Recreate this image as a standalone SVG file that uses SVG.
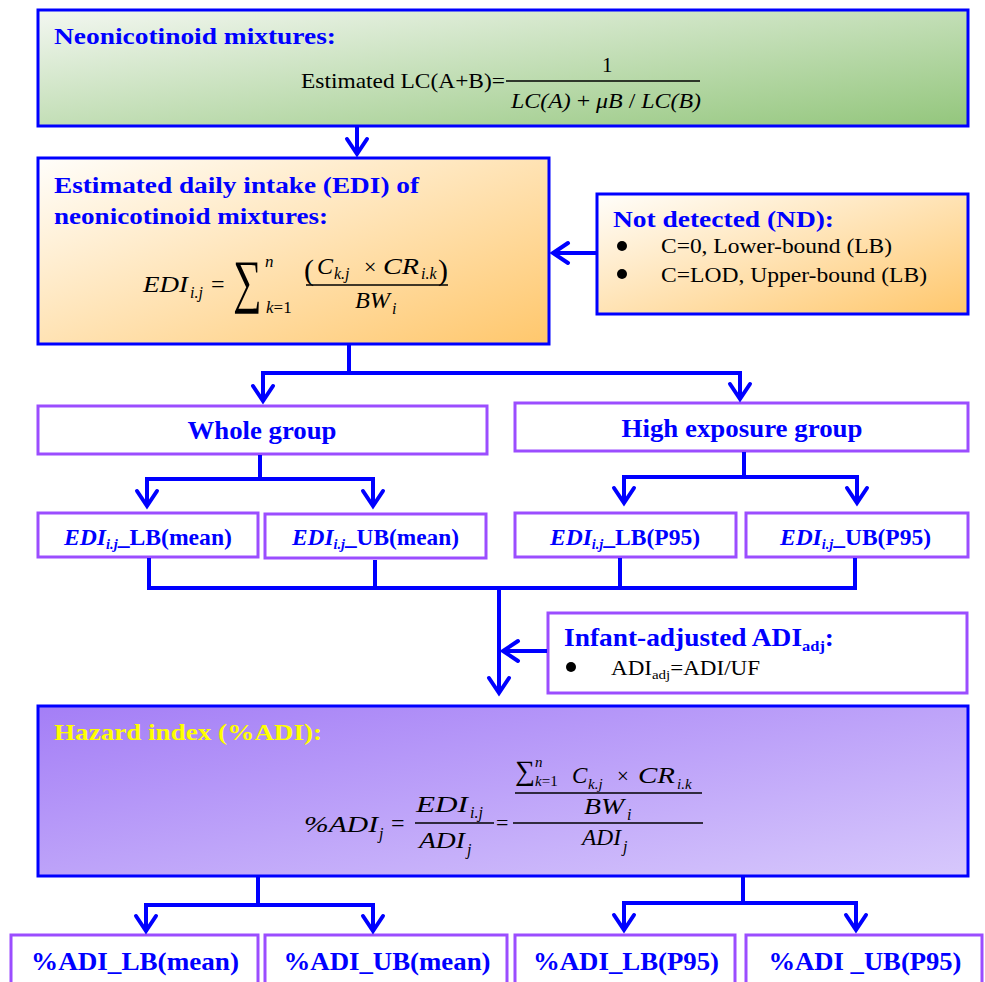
<svg xmlns="http://www.w3.org/2000/svg" width="985" height="982" viewBox="0 0 985 982">
<defs>
<linearGradient id="gGreen" x1="0" y1="0" x2="1" y2="1"><stop offset="0" stop-color="#f3f7f1"/><stop offset="1" stop-color="#93c67c"/></linearGradient>
<linearGradient id="gOrange" x1="0" y1="0" x2="1" y2="1"><stop offset="0" stop-color="#fffefb"/><stop offset="1" stop-color="#ffc76c"/></linearGradient>
<linearGradient id="gPurple" x1="0" y1="0" x2="1" y2="1"><stop offset="0" stop-color="#a47ef6"/><stop offset="1" stop-color="#d7c8fc"/></linearGradient>
<marker id="arr" markerUnits="userSpaceOnUse" markerWidth="40" markerHeight="40" viewBox="-20 -20 40 40" refX="0" refY="0" orient="auto" overflow="visible">
<path d="M-15,-10 L0,0 L-15,10" fill="none" stroke="#0000ff" stroke-width="4" stroke-linejoin="miter" stroke-linecap="round"/>
</marker>
</defs>
<style>
.bbox{stroke:#0000ff;stroke-width:3}
.pbox{fill:#ffffff;stroke:#9b4dff;stroke-width:3}
.hd{font-family:"Liberation Serif","Times New Roman",serif;font-weight:bold;fill:#0000ff}
.tx{font-family:"Liberation Serif","Times New Roman",serif;fill:#000000}
.mi{font-family:"Liberation Serif","Times New Roman",serif;font-style:italic;fill:#000000}
.conn path{fill:none;stroke:#0000ff;stroke-width:4;stroke-linejoin:miter}
.fl{stroke:#000000;stroke-width:1.4}
</style>

<g id="neonicotinoid-mixtures">
<rect x="38" y="10" width="930" height="116" fill="url(#gGreen)" class="bbox"/>
<text class="hd" x="54" y="44" font-size="24" textLength="282" lengthAdjust="spacingAndGlyphs">Neonicotinoid mixtures:</text>
<text class="tx" x="301" y="88" font-size="21" textLength="204" lengthAdjust="spacingAndGlyphs">Estimated LC(A+B)=</text>
<text class="tx" x="602" y="72" font-size="21">1</text>
<line class="fl" x1="506" y1="81" x2="700" y2="81"/>
<text class="mi" x="511" y="108" font-size="21" textLength="190" lengthAdjust="spacingAndGlyphs">LC(A)<tspan font-style="normal"> + </tspan>μB<tspan font-style="normal"> / </tspan>LC(B)</text>
</g>

<g id="edi">
<rect x="38" y="158" width="511" height="186" fill="url(#gOrange)" class="bbox"/>
<text class="hd" x="54" y="193" font-size="24" textLength="365" lengthAdjust="spacingAndGlyphs">Estimated daily intake (EDI) of</text>
<text class="hd" x="54" y="224" font-size="24" textLength="274" lengthAdjust="spacingAndGlyphs">neonicotinoid mixtures:</text>
<text class="mi" x="143" y="292" font-size="24" textLength="45" lengthAdjust="spacingAndGlyphs">EDI</text>
<text class="mi" x="190" y="298" font-size="16">i.j</text>
<text class="tx" x="211" y="292" font-size="24">=</text>
<text class="tx" transform="translate(233,301) scale(0.95,1.4)" font-size="42">∑</text>
<text class="mi" x="265" y="267" font-size="17">n</text>
<text class="mi" x="266" y="313" font-size="17">k<tspan font-style="normal">=1</tspan></text>
<text class="tx" x="304" y="280" font-size="30">(</text>
<text class="mi" x="317" y="274" font-size="24">C</text>
<text class="mi" x="334" y="279" font-size="16">k.j</text>
<text class="tx" x="364" y="274" font-size="22">×</text>
<text class="mi" x="383" y="274" font-size="24" textLength="36" lengthAdjust="spacingAndGlyphs">CR</text>
<text class="mi" x="421" y="279" font-size="16">i.k</text>
<text class="tx" x="438" y="280" font-size="30">)</text>
<line class="fl" x1="306" y1="285" x2="448" y2="285"/>
<text class="mi" x="355" y="308" font-size="24" textLength="35" lengthAdjust="spacingAndGlyphs">BW</text>
<text class="mi" x="392" y="314" font-size="16">i</text>
</g>

<g id="not-detected">
<rect x="597" y="194" width="371" height="120" fill="url(#gOrange)" class="bbox"/>
<text class="hd" x="613" y="227" font-size="24" textLength="221" lengthAdjust="spacingAndGlyphs">Not detected (ND):</text>
<circle cx="622" cy="246" r="5" fill="#000"/>
<circle cx="622" cy="274" r="5" fill="#000"/>
<text class="tx" x="661" y="253" font-size="20" textLength="231" lengthAdjust="spacingAndGlyphs">C=0, Lower-bound (LB)</text>
<text class="tx" x="661" y="282" font-size="20" textLength="266" lengthAdjust="spacingAndGlyphs">C=LOD, Upper-bound (LB)</text>
</g>

<g id="whole-group">
<rect x="38" y="406" width="449" height="48" class="pbox"/>
<text class="hd" x="262" y="439" font-size="26" text-anchor="middle" textLength="149" lengthAdjust="spacingAndGlyphs">Whole group</text>
</g>

<g id="high-exposure-group">
<rect x="515" y="403" width="453" height="48" class="pbox"/>
<text class="hd" x="742" y="437" font-size="26" text-anchor="middle" textLength="241" lengthAdjust="spacingAndGlyphs">High exposure group</text>
</g>

<g id="edi-lb-mean">
<rect x="38" y="513" width="220" height="44" class="pbox"/>
<text class="hd" x="64" y="545" font-size="23" textLength="168" lengthAdjust="spacingAndGlyphs"><tspan font-style="italic">EDI</tspan><tspan font-style="italic" font-size="14" dy="4">i.j</tspan><tspan dy="-4">_LB(mean)</tspan></text>
</g>
<g id="edi-ub-mean">
<rect x="265" y="514" width="221" height="44" class="pbox"/>
<text class="hd" x="292" y="545" font-size="23" textLength="167" lengthAdjust="spacingAndGlyphs"><tspan font-style="italic">EDI</tspan><tspan font-style="italic" font-size="14" dy="4">i.j</tspan><tspan dy="-4">_UB(mean)</tspan></text>
</g>
<g id="edi-lb-p95">
<rect x="515" y="513" width="221" height="44" class="pbox"/>
<text class="hd" x="550" y="545" font-size="23" textLength="150" lengthAdjust="spacingAndGlyphs"><tspan font-style="italic">EDI</tspan><tspan font-style="italic" font-size="14" dy="4">i.j</tspan><tspan dy="-4">_LB(P95)</tspan></text>
</g>
<g id="edi-ub-p95">
<rect x="746" y="513" width="222" height="44" class="pbox"/>
<text class="hd" x="780" y="545" font-size="23" textLength="151" lengthAdjust="spacingAndGlyphs"><tspan font-style="italic">EDI</tspan><tspan font-style="italic" font-size="14" dy="4">i.j</tspan><tspan dy="-4">_UB(P95)</tspan></text>
</g>

<g id="infant-adjusted-adi">
<rect x="548" y="613" width="419" height="80" class="pbox"/>
<text class="hd" x="564" y="646" font-size="25" textLength="270" lengthAdjust="spacingAndGlyphs">Infant-adjusted ADI<tspan font-size="15" dy="5">adj</tspan><tspan dy="-5">:</tspan></text>
<circle cx="571" cy="667" r="5" fill="#000"/>
<text class="tx" x="611" y="675" font-size="20" textLength="149" lengthAdjust="spacingAndGlyphs">ADI<tspan font-size="13" dy="4">adj</tspan><tspan dy="-4">=ADI/UF</tspan></text>
</g>

<g id="hazard-index">
<rect x="38" y="706" width="930" height="170" fill="url(#gPurple)" class="bbox"/>
<text class="hd" x="54" y="740" font-size="24" fill="#ffff00" style="fill:#ffff00" textLength="268" lengthAdjust="spacingAndGlyphs">Hazard index (%ADI):</text>
<text class="mi" x="304" y="832" font-size="24" textLength="74" lengthAdjust="spacingAndGlyphs">%ADI</text>
<text class="mi" x="379" y="839" font-size="16">j</text>
<text class="tx" x="391" y="831" font-size="24">=</text>
<text class="mi" x="416" y="812" font-size="24" textLength="52" lengthAdjust="spacingAndGlyphs">EDI</text>
<text class="mi" x="470" y="818" font-size="16">i.j</text>
<line class="fl" x1="415" y1="823" x2="494" y2="823"/>
<text class="mi" x="419" y="848" font-size="24" textLength="46" lengthAdjust="spacingAndGlyphs">ADI</text>
<text class="mi" x="467" y="855" font-size="16">j</text>
<text class="tx" x="496" y="830" font-size="22">=</text>
<line class="fl" x1="513" y1="823" x2="703" y2="823"/>
<text class="tx" x="515" y="780" font-size="28">∑</text>
<text class="mi" x="535" y="767" font-size="15">n</text>
<text class="mi" x="535" y="786" font-size="15">k<tspan font-style="normal">=1</tspan></text>
<text class="mi" x="572" y="783" font-size="23">C</text>
<text class="mi" x="588" y="789" font-size="15">k.j</text>
<text class="tx" x="617" y="783" font-size="21">×</text>
<text class="mi" x="638" y="783" font-size="23" textLength="37" lengthAdjust="spacingAndGlyphs">CR</text>
<text class="mi" x="677" y="789" font-size="15">i.k</text>
<line class="fl" x1="515" y1="793" x2="702" y2="793"/>
<text class="mi" x="584" y="814" font-size="24" textLength="40" lengthAdjust="spacingAndGlyphs">BW</text>
<text class="mi" x="627" y="820" font-size="16">i</text>
<text class="mi" x="582" y="845" font-size="24" textLength="39" lengthAdjust="spacingAndGlyphs">ADI</text>
<text class="mi" x="623" y="852" font-size="16">j</text>
</g>

<g id="adi-lb-mean">
<rect x="11" y="935" width="247" height="60" class="pbox"/>
<text class="hd" x="135" y="970" font-size="26" text-anchor="middle" textLength="208" lengthAdjust="spacingAndGlyphs">%ADI_LB(mean)</text>
</g>
<g id="adi-ub-mean">
<rect x="265" y="935" width="242" height="60" class="pbox"/>
<text class="hd" x="387" y="970" font-size="26" text-anchor="middle" textLength="207" lengthAdjust="spacingAndGlyphs">%ADI_UB(mean)</text>
</g>
<g id="adi-lb-p95">
<rect x="515" y="935" width="220" height="60" class="pbox"/>
<text class="hd" x="626" y="970" font-size="26" text-anchor="middle" textLength="186" lengthAdjust="spacingAndGlyphs">%ADI_LB(P95)</text>
</g>
<g id="adi-ub-p95">
<rect x="746" y="935" width="236" height="60" class="pbox"/>
<text class="hd" x="865" y="970" font-size="26" text-anchor="middle" textLength="193" lengthAdjust="spacingAndGlyphs">%ADI _UB(P95)</text>
</g>

<g class="conn" id="connectors">
<path d="M357,127 V154" marker-end="url(#arr)"/>
<path d="M349,345 V373 H263 V401" marker-end="url(#arr)"/>
<path d="M349,373 H740 V399" marker-end="url(#arr)"/>
<path d="M597,253 H553" marker-end="url(#arr)"/>
<path d="M260,455 V479 H147 V506" marker-end="url(#arr)"/>
<path d="M260,479 H373 V506" marker-end="url(#arr)"/>
<path d="M744,452 V477 H624 V503" marker-end="url(#arr)"/>
<path d="M744,477 H857 V503" marker-end="url(#arr)"/>
<path d="M149,558 V588 H855 V558"/>
<path d="M375,560 V588"/>
<path d="M620,558 V588"/>
<path d="M499,588 V693" marker-end="url(#arr)"/>
<path d="M547,651 H503" marker-end="url(#arr)"/>
<path d="M258,877 V905 H146 V931" marker-end="url(#arr)"/>
<path d="M258,905 H373 V931" marker-end="url(#arr)"/>
<path d="M743,877 V903 H624 V930" marker-end="url(#arr)"/>
<path d="M743,903 H856 V930" marker-end="url(#arr)"/>
</g>
</svg>
